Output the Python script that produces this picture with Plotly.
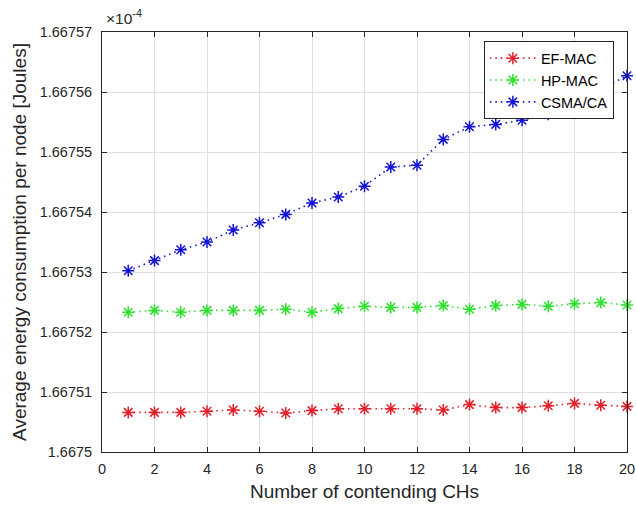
import plotly.graph_objects as go

x_vals = list(range(1, 21))
ef_mac = [1.6675066, 1.6675066, 1.6675066, 1.6675068, 1.6675070, 1.6675068, 1.6675065, 1.6675069, 1.6675072, 1.6675072,
          1.6675072, 1.6675072, 1.6675070, 1.6675079, 1.6675074, 1.6675074, 1.6675077, 1.6675081, 1.6675078, 1.6675076]
hp_mac = [1.6675233, 1.6675236, 1.6675233, 1.6675236, 1.6675236, 1.6675236, 1.6675238, 1.6675233, 1.6675239, 1.6675243,
          1.6675241, 1.6675241, 1.6675244, 1.6675238, 1.6675244, 1.6675246, 1.6675243, 1.6675247, 1.6675249, 1.6675245]
csma_ca = [1.6675302, 1.6675319, 1.6675337, 1.6675350, 1.6675370, 1.6675382, 1.6675396, 1.6675415, 1.6675425, 1.6675443,
           1.6675475, 1.6675478, 1.6675521, 1.6675542, 1.6675546, 1.6675553, 1.6675563, 1.6675585, 1.6675605, 1.6675627]

series_names = ["EF-MAC", "HP-MAC", "CSMA/CA"]
series_colors = ["#e3202a", "#2fe02f", "#1414d2"]

x_ticks = list(range(0, 21, 2))
y_ticks = [1.66750, 1.66751, 1.66752, 1.66753, 1.66754, 1.66755, 1.66756, 1.66757]
y_ticktext = ["1.6675", "1.66751", "1.66752", "1.66753", "1.66754", "1.66755", "1.66756", "1.66757"]

FONT = "Liberation Sans, Arial, Helvetica, sans-serif"
AX = "#262626"

fig = go.Figure()
for name, ys, col in zip(series_names, [ef_mac, hp_mac, csma_ca], series_colors):
    fig.add_trace(go.Scatter(
        x=x_vals, y=ys, name=name, mode="lines+markers",
        line=dict(color=col, width=1.6, dash="1.5px,4px"),
        marker=dict(symbol="asterisk-open", size=10, line=dict(color=col, width=1.5)),
        cliponaxis=False,
    ))

axis_common = dict(
    showline=True, linecolor=AX, linewidth=1, mirror="ticks",
    ticks="inside", ticklen=5, tickcolor=AX, tickwidth=1,
    showgrid=True, gridcolor="#e0e0e0", gridwidth=1, zeroline=False,
    tickfont=dict(family=FONT, size=14.5, color=AX),
    automargin=False,
)

fig.update_layout(
    width=636, height=508,
    margin=dict(l=102, r=9, t=32, b=56),
    paper_bgcolor="white", plot_bgcolor="white",
    font=dict(family=FONT, color=AX),
    showlegend=True,
    legend=dict(
        x=0.975, y=0.978, xanchor="right", yanchor="top",
        bgcolor="white", bordercolor=AX, borderwidth=1,
        font=dict(family=FONT, size=14.5, color="#000000"),
        tracegroupgap=0, itemwidth=46,
    ),
    xaxis=dict(
        range=[0, 20], tickvals=x_ticks, ticklabelstandoff=4,
        title=dict(text="Number of contending CHs", font=dict(family=FONT, size=19, color=AX), standoff=8),
        **axis_common,
    ),
    yaxis=dict(
        range=[1.66750, 1.66757], tickvals=y_ticks, ticktext=y_ticktext, ticklabelstandoff=6,
        title=dict(text="Average energy consumption per node [Joules]", font=dict(family=FONT, size=19, color=AX), standoff=8),
        **axis_common,
    ),
    annotations=[dict(
        text="×10<sup>-4</sup>", x=0, y=1, xref="paper", yref="paper",
        xanchor="left", yanchor="bottom", xshift=2, yshift=3, showarrow=False,
        font=dict(family=FONT, size=15.5, color=AX),
    )],
)

fig.write_html("out.html")
